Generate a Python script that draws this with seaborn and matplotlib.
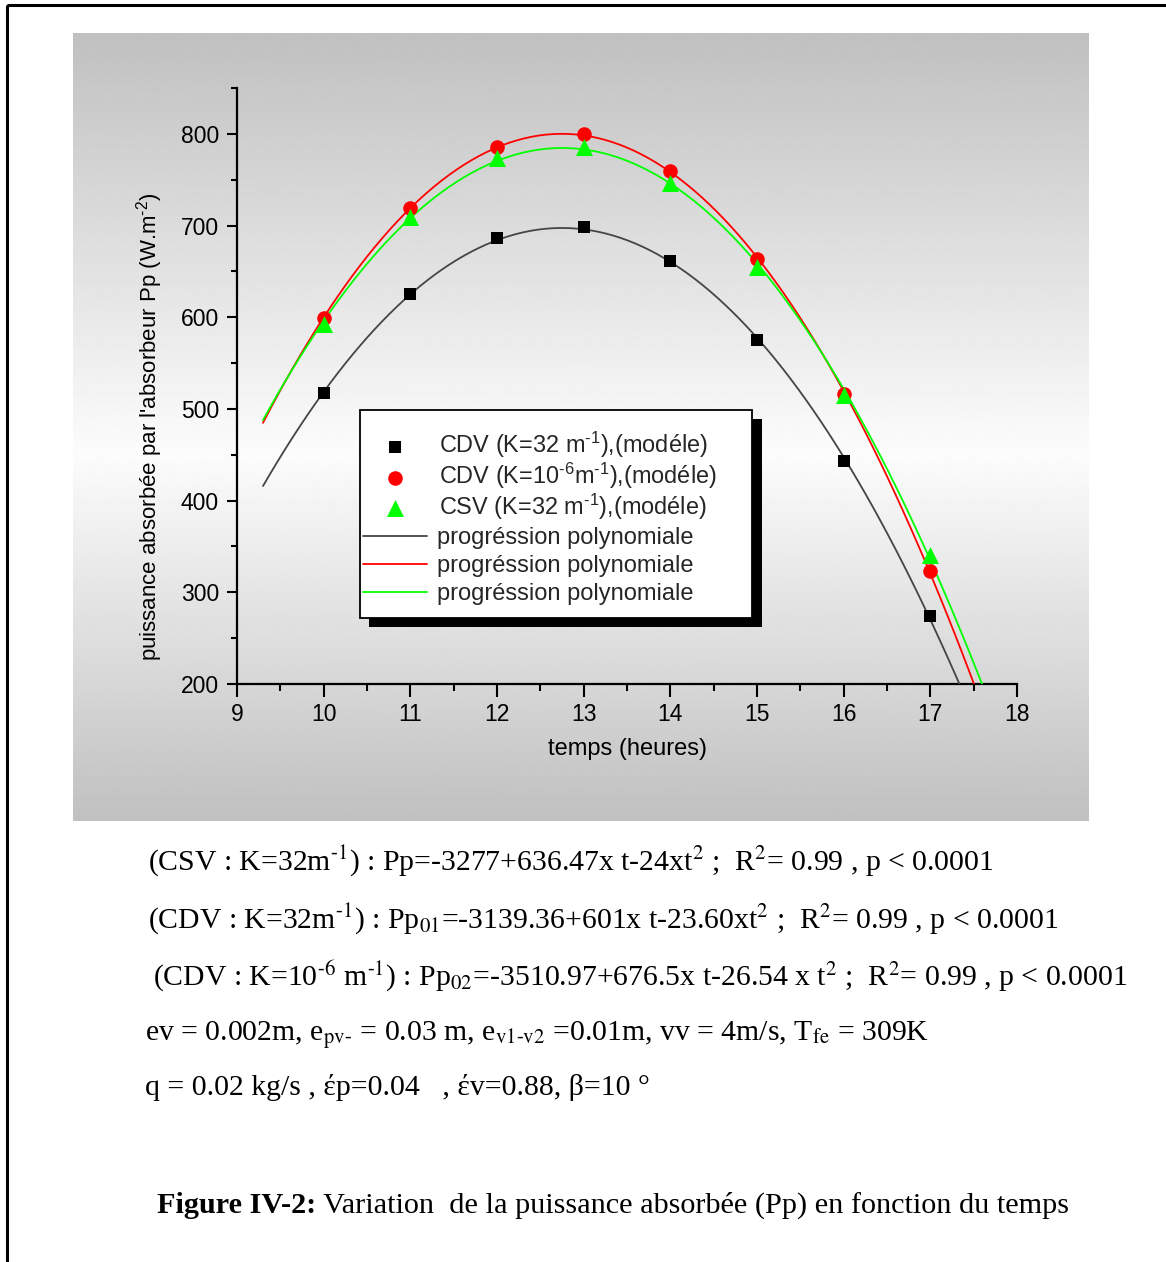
import numpy as np
import pandas as pd
import matplotlib
matplotlib.use("Agg")
import matplotlib.pyplot as plt
import seaborn as sns
from matplotlib.patches import Rectangle
from matplotlib.lines import Line2D
from matplotlib.ticker import MultipleLocator

# ---------------- data ----------------
hours = [10, 11, 12, 13, 14, 15, 16, 17]
cdv_k32 = [517, 625, 686, 698, 661, 575, 443, 274]
cdv_k1e6 = [599, 719, 786, 800, 759, 664, 516, 323]
csv_k32 = [593, 709, 774, 786, 746, 655, 515, 341]

series_labels = [r"CDV (K=32 m$^{‐1}$),(modéle)",
                 r"CDV (K=10$^{‐6}$m$^{‐1}$),(modéle)",
                 r"CSV (K=32 m$^{‐1}$),(modéle)"]
fit_label = "progréssion polynomiale"
x_ticks = [9, 10, 11, 12, 13, 14, 15, 16, 17, 18]
y_ticks = [200, 300, 400, 500, 600, 700, 800]
x_label = "temps (heures)"
y_label = r"puissance absorbée par l'absorbeur Pp (W.m$^{‐2}$)"

text_lines = [
    r"(CSV : K=32m$^{‐1}$) : Pp=-3277+636.47x t-24xt$^{2}$ ;  R$^{2}$= 0.99 , p < 0.0001",
    r"(CDV : K=32m$^{‐1}$) : Pp$_{01}$=-3139.36+601x t-23.60xt$^{2}$ ;  R$^{2}$= 0.99 , p < 0.0001",
    r"(CDV : K=10$^{‐6}$ m$^{‐1}$) : Pp$_{02}$=-3510.97+676.5x t-26.54 x t$^{2}$ ;  R$^{2}$= 0.99 , p < 0.0001",
    r"ev = 0.002m, e$_\mathrm{pv‐}$ = 0.03 m, e$_\mathrm{v1‐v2}$ =0.01m, vv = 4m/s, T$_\mathrm{fe}$ = 309K",
    "q = 0.02 kg/s , έp=0.04   , έv=0.88, β=10 °",
]
caption_bold = "Figure IV-2:"
caption_rest = " Variation  de la puissance absorbée (Pp) en fonction du temps"

df = pd.DataFrame({"t": hours, "cdv32": cdv_k32, "cdv6": cdv_k1e6, "csv32": csv_k32})

# ---------------- style ----------------
sns.set_theme(style="ticks")
plt.rcParams["font.family"] = ["Liberation Sans", "DejaVu Sans"]
plt.rcParams["mathtext.fontset"] = "custom"
plt.rcParams["mathtext.rm"] = "Liberation Sans"
plt.rcParams["mathtext.it"] = "Liberation Sans:italic"
plt.rcParams["mathtext.bf"] = "Liberation Sans:bold"

W, H = 1166, 1262
fig = plt.figure(figsize=(W / 100, H / 100), dpi=100)
fig.patch.set_facecolor("white")

def fx(x):
    return x / W

def fy(y):
    return 1 - y / H

# gradient panel
bg = fig.add_axes([fx(73), fy(821), fx(1089 - 73), (821 - 33) / H])
rows = np.arange(0, 789)
vals = np.interp(rows, [0, 420, 788], [192, 252, 192])
grad = np.repeat(vals[:, None], 2, axis=1) / 255.0
bg.imshow(grad, cmap="gray", vmin=0, vmax=1, aspect="auto", interpolation="bilinear")
bg.set_axis_off()

# main axes (pixel box 237..1017 x 88..684)
AX_L, AX_R, AX_T, AX_B = 237, 1017, 88, 684
ax = fig.add_axes([fx(AX_L), fy(AX_B), fx(AX_R - AX_L), (AX_B - AX_T) / H])
ax.set_facecolor("none")

def axx(px):
    return (px - AX_L) / (AX_R - AX_L)

def axy(py):
    return (AX_B - py) / (AX_B - AX_T)

sns.scatterplot(data=df, x="t", y="cdv32", marker="s", s=80, color="black",
                linewidth=0, label=series_labels[0], ax=ax, zorder=4)
sns.scatterplot(data=df, x="t", y="cdv6", marker="o", s=110, color="#FF0000",
                linewidth=0, label=series_labels[1], ax=ax, zorder=4)
sns.scatterplot(data=df, x="t", y="csv32", marker="^", s=150, color="#00FF00",
                linewidth=0, label=series_labels[2], ax=ax, zorder=4)

ax.set_xlim(9.3, 17.8)
for col, c in [("cdv32", "#454545"), ("cdv6", "#FF0000"), ("csv32", "#00FF00")]:
    sns.regplot(data=df, x="t", y=col, order=2, scatter=False, ci=None,
                truncate=False, color=c, ax=ax, label=fit_label,
                line_kws=dict(lw=1.3, zorder=3))

ax.set_xlim(9, 18)
ax.set_ylim(200, 850)
ax.set_xticks(x_ticks)
ax.set_yticks(y_ticks)
ax.xaxis.set_minor_locator(MultipleLocator(0.5))
ax.yaxis.set_minor_locator(MultipleLocator(50))
ax.tick_params(axis="both", which="major", labelsize=16.5, width=1.5, color="black",
               labelcolor="black", direction="out")
ax.tick_params(axis="x", which="major", length=9, pad=5)
ax.tick_params(axis="x", which="minor", length=5, width=1.5, color="black")
ax.tick_params(axis="y", which="major", length=7, pad=6)
ax.tick_params(axis="y", which="minor", length=4, width=1.5, color="black")
for sp in ["top", "right"]:
    ax.spines[sp].set_visible(False)
for sp in ["left", "bottom"]:
    ax.spines[sp].set_linewidth(1.6)
    ax.spines[sp].set_color("black")
ax.set_xlabel(x_label, fontsize=17, color="black")
ax.set_ylabel(y_label, fontsize=16, color="black")
ax.xaxis.set_label_coords(0.5, axy(738))
ax.yaxis.set_label_coords(axx(165), axy(427))

# legend: box + black shadow, then two legend blocks (markers / fit lines)
ax.add_patch(Rectangle((axx(369), axy(627)), axx(762) - axx(369), axy(419) - axy(627),
                       transform=ax.transAxes, facecolor="black", edgecolor="none",
                       zorder=8, clip_on=False))
ax.add_patch(Rectangle((axx(360), axy(618)), axx(752) - axx(360), axy(410) - axy(618),
                       transform=ax.transAxes, facecolor="white", edgecolor="black",
                       lw=1.3, zorder=9, clip_on=False))

handles, labels = ax.get_legend_handles_labels()
common = dict(loc="upper left", borderaxespad=0, borderpad=0, frameon=False,
              handlelength=2.7, scatterpoints=1)
leg1 = ax.legend(handles[:3], labels[:3], bbox_to_anchor=(axx(363), axy(430)),
                 fontsize=16.9, labelspacing=0.02, handletextpad=0.55, **common)
leg1.set_zorder(10)
ax.add_artist(leg1)
leg2 = ax.legend(handles[3:], labels[3:], bbox_to_anchor=(axx(363), axy(527)),
                 fontsize=17, labelspacing=0.26, handletextpad=0.45, **common)
leg2.set_zorder(10)

# page border lines
fig.add_artist(Line2D([fx(8), 1.0], [fy(5), fy(5)], color="black", lw=2.2))
fig.add_artist(Line2D([fx(7), fx(7)], [0, fy(6)], color="black", lw=2.2))

# equations / parameters
serif = ["Liberation Serif", "DejaVu Serif"]
ys = [870, 928, 986, 1040, 1095]
xs = [148, 148, 153, 145, 145]
for s, x, y in zip(text_lines, xs, ys):
    fig.text(fx(x), fy(y), s, family=serif, math_fontfamily="stix", fontsize=21.4,
             va="baseline", ha="left", color="black")

t1 = fig.text(fx(157), fy(1213), caption_bold, family=serif, fontweight="bold",
              fontsize=21.8, va="baseline", ha="left", color="black")
ax.annotate(caption_rest, xy=(1, 0), xycoords=t1, va="bottom", ha="left",
            family=serif, fontsize=21.8, color="black", annotation_clip=False)

fig.savefig("out.png", dpi=100)
